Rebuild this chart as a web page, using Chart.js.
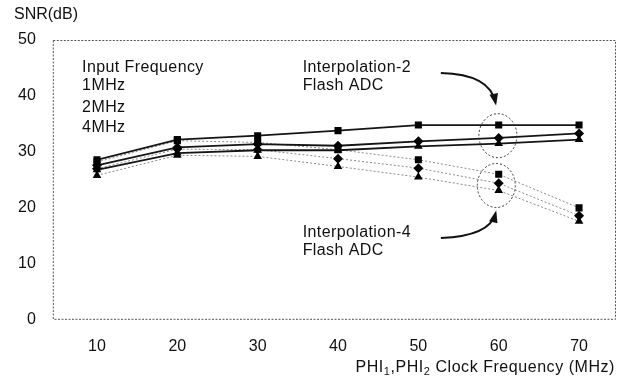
<!DOCTYPE html>
<html>
<head>
<meta charset="utf-8">
<script src="https://cdn.jsdelivr.net/npm/chart.js@4/dist/chart.umd.min.js"></script>
<style>
  html,body{margin:0;padding:0;background:#fff;}
  #wrap{width:621px;height:380px;}
</style>
</head>
<body>
<div id="wrap"><canvas id="c" width="621" height="380"></canvas></div>
<script>
// clock frequency (MHz)
const clockFreq = [10, 20, 30, 40, 50, 60, 70];
const xTicks = [10, 20, 30, 40, 50, 60, 70];
const yTicks = [0, 10, 20, 30, 40, 50];

// Interpolation-2 flash ADC (solid lines)
const i2_1MHz = [28.6, 32.2, 32.9, 33.8, 34.8, 34.8, 34.8];
const i2_2MHz = [27.6, 30.8, 31.4, 31.1, 31.9, 32.5, 33.3];
const i2_4MHz = [26.8, 29.8, 30.3, 30.3, 31.0, 31.5, 32.2];

// Interpolation-4 flash ADC (dotted lines)
const i4_1MHz = [28.2, 32.0, 31.7, 30.4, 28.6, 26.0, 20.0];
const i4_2MHz = [27.0, 30.5, 30.4, 28.8, 27.1, 24.4, 18.6];
const i4_4MHz = [25.8, 29.4, 29.2, 27.4, 25.5, 23.1, 17.6];

const FONT = "'Liberation Sans', Arial, Helvetica, sans-serif";

function pts(arr){ return clockFreq.map((x,i)=>({x:x, y:arr[i]})); }

function solid(arr, style, r){
  return {data:pts(arr), borderColor:"#151515", borderWidth:1.8, pointStyle:style,
    pointRadius:r, pointBackgroundColor:"#000", pointBorderColor:"#000", pointBorderWidth:0,
    tension:0, order:1};
}
function dotted(arr, style, r){
  return {data:pts(arr), borderColor:"#8a8a8a", borderWidth:1, borderDash:[2,2], pointStyle:style,
    pointRadius:r, pointBackgroundColor:"#000", pointBorderColor:"#000", pointBorderWidth:0,
    tension:0, order:2};
}

// texts, border, ellipses and arrows
const decor = {
  id:"decor",
  beforeDatasetsDraw(chart){
    const {ctx, chartArea:a} = chart;
    ctx.save();
    ctx.strokeStyle="#555"; ctx.lineWidth=1; ctx.setLineDash([2,1.5]);
    ctx.strokeRect(a.left+0.5, a.top+0.5, a.right-a.left-1, a.bottom-a.top-1);
    ctx.restore();
  },
  afterDatasetsDraw(chart){
    const {ctx, scales:{x, y}} = chart;
    const px = v=>x.getPixelForValue(v), py = v=>y.getPixelForValue(v);
    ctx.save();
    ctx.fillStyle="#111";
    ctx.font="16px "+FONT;
    ctx.textBaseline="middle"; ctx.textAlign="left";
    ctx.fillText("SNR(dB)", 14, 15);
    ctx.letterSpacing="0.4px";
    ctx.fillText("Input Frequency", px(8.15), py(45.1));
    ctx.fillText("1MHz", px(8.15), py(41.8));
    ctx.fillText("2MHz", px(8.15), py(37.9));
    ctx.fillText("4MHz", px(8.15), py(34.3));
    ctx.fillText("Interpolation-2", px(35.6), py(45.1));
    ctx.fillText("Flash ADC", px(35.6), py(41.8));
    ctx.fillText("Interpolation-4", px(35.6), py(15.5));
    ctx.fillText("Flash ADC", px(35.6), py(12.3));

    // x axis title with subscripts
    const yT = 368;
    const parts = [["PHI",0],["1",1],[",PHI",0],["2",1],[" Clock Frequency (MHz)",0]];
    ctx.letterSpacing="0.55px";
    let w = 0;
    parts.forEach(p=>{ ctx.font=(p[1]?"11px ":"16px ")+FONT; w+=ctx.measureText(p[0]).width; });
    let cx = 615 - w;
    parts.forEach(p=>{
      ctx.font=(p[1]?"11px ":"16px ")+FONT;
      ctx.fillText(p[0], cx, yT + (p[1]?4:0));
      cx += ctx.measureText(p[0]).width;
    });
    ctx.letterSpacing="0px";

    // dotted ellipses at 60 MHz
    ctx.strokeStyle="#333"; ctx.lineWidth=1; ctx.setLineDash([2,2]);
    ctx.beginPath(); ctx.ellipse(px(59.9), py(32.9), 19, 22, 0, 0, Math.PI*2); ctx.stroke();
    ctx.beginPath(); ctx.ellipse(px(59.7), py(24.0), 19, 22, 0, 0, Math.PI*2); ctx.stroke();

    // arrows
    ctx.setLineDash([]); ctx.lineWidth=2; ctx.strokeStyle="#111";
    function arrow(x0,y0,cxp,cyp,x1,y1){
      ctx.beginPath(); ctx.moveTo(x0,y0); ctx.quadraticCurveTo(cxp,cyp,x1,y1); ctx.stroke();
      const ang = Math.atan2(y1-cyp, x1-cxp), L=10, s=0.45;
      ctx.beginPath();
      ctx.moveTo(x1+Math.cos(ang)*3, y1+Math.sin(ang)*3);
      ctx.lineTo(x1-L*Math.cos(ang-s), y1-L*Math.sin(ang-s));
      ctx.lineTo(x1-L*Math.cos(ang+s), y1-L*Math.sin(ang+s));
      ctx.closePath(); ctx.fill();
    }
    arrow(px(52.8), py(44.1), px(58.9), py(43.9), px(59.6), py(38.8));
    arrow(px(52.8), py(14.6), px(58.9), py(15.0), px(59.6), py(19.0));
    ctx.restore();
  }
};

new Chart(document.getElementById("c"), {
  type:"line",
  data:{
    datasets:[
      dotted(i4_1MHz, "rect", 5),
      dotted(i4_2MHz, "rectRot", 5),
      dotted(i4_4MHz, "triangle", 5),
      solid(i2_1MHz, "rect", 5),
      solid(i2_2MHz, "rectRot", 5),
      solid(i2_4MHz, "triangle", 5)
    ]
  },
  options:{
    responsive:false,
    animation:false,
    layout:{ padding:{ left:1, right:4, top:40, bottom:7 } },
    plugins:{ legend:{display:false}, tooltip:{enabled:false} },
    scales:{
      x:{
        type:"linear", min:4.5, max:74.6,
        afterBuildTicks:(s)=>{ s.ticks = xTicks.map(v=>({value:v})); },
        grid:{display:false, drawTicks:false}, border:{display:false},
        ticks:{ font:{family:FONT, size:16}, color:"#111", padding:17, maxRotation:0 }
      },
      y:{
        min:0, max:50,
        afterBuildTicks:(s)=>{ s.ticks = yTicks.map(v=>({value:v})); },
        grid:{display:false, drawTicks:false}, border:{display:false},
        ticks:{ font:{family:FONT, size:16}, color:"#111", padding:17 }
      }
    }
  },
  plugins:[decor]
});
</script>
</body>
</html>
